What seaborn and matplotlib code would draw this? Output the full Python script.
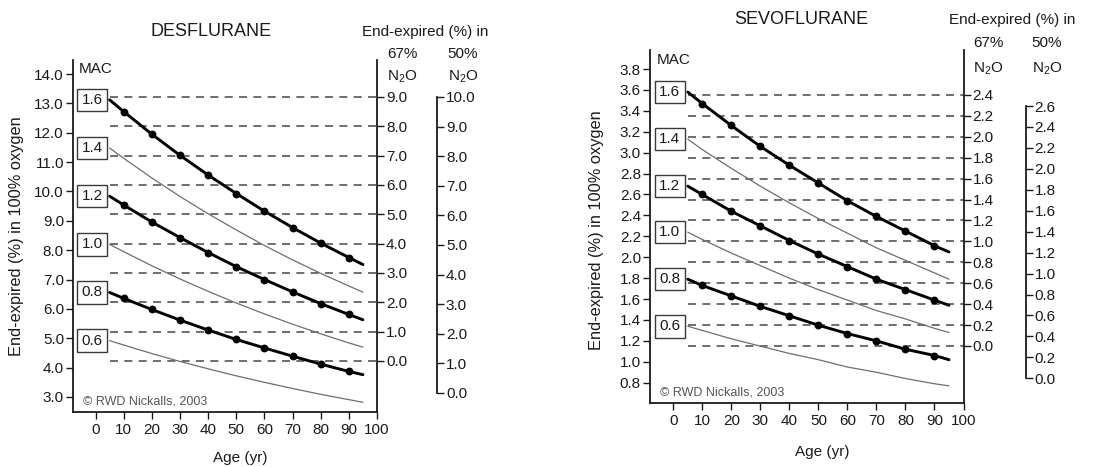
import numpy as np
import pandas as pd
import matplotlib
matplotlib.use("Agg")
import matplotlib.pyplot as plt
from matplotlib.ticker import FormatStrFormatter
import seaborn as sns

# ---------------- data ----------------
ages = [5, 10, 20, 30, 40, 50, 60, 70, 80, 90, 95]
mac_levels = ["1.6", "1.4", "1.2", "1.0", "0.8", "0.6"]
thick_levels = ["1.6", "1.2", "0.8"]

des_16 = [13.12, 12.72, 11.95, 11.23, 10.56, 9.93, 9.33, 8.77, 8.24, 7.75, 7.51]
des_14 = [11.48, 11.13, 10.46, 9.83, 9.24, 8.69, 8.16, 7.67, 7.21, 6.78, 6.57]
des_12 = [9.84, 9.54, 8.96, 8.43, 7.92, 7.44, 7.00, 6.58, 6.18, 5.81, 5.63]
des_10 = [8.20, 7.95, 7.47, 7.02, 6.60, 6.20, 5.83, 5.48, 5.15, 4.84, 4.70]
des_08 = [6.56, 6.36, 5.98, 5.62, 5.28, 4.96, 4.67, 4.39, 4.12, 3.87, 3.76]
des_06 = [4.92, 4.77, 4.48, 4.21, 3.96, 3.72, 3.50, 3.29, 3.09, 2.91, 2.82]

sevo_16 = [3.58, 3.47, 3.26, 3.06, 2.88, 2.71, 2.54, 2.39, 2.25, 2.11, 2.05]
sevo_14 = [3.13, 3.03, 2.85, 2.68, 2.52, 2.37, 2.23, 2.09, 1.97, 1.85, 1.79]
sevo_12 = [2.68, 2.60, 2.44, 2.30, 2.16, 2.03, 1.91, 1.79, 1.69, 1.59, 1.54]
sevo_10 = [2.24, 2.17, 2.04, 1.92, 1.80, 1.69, 1.59, 1.49, 1.41, 1.32, 1.28]
sevo_08 = [1.79, 1.73, 1.63, 1.53, 1.44, 1.35, 1.27, 1.20, 1.12, 1.06, 1.02]
sevo_06 = [1.34, 1.30, 1.22, 1.15, 1.08, 1.02, 0.95, 0.90, 0.84, 0.79, 0.77]

x_ticks = [0, 10, 20, 30, 40, 50, 60, 70, 80, 90, 100]
des_yticks = [3.0, 4.0, 5.0, 6.0, 7.0, 8.0, 9.0, 10.0, 11.0, 12.0, 13.0, 14.0]
des_n67_ticks = [0.0, 1.0, 2.0, 3.0, 4.0, 5.0, 6.0, 7.0, 8.0, 9.0]
des_n50_ticks = [0.0, 1.0, 2.0, 3.0, 4.0, 5.0, 6.0, 7.0, 8.0, 9.0, 10.0]
sevo_yticks = [0.8, 1.0, 1.2, 1.4, 1.6, 1.8, 2.0, 2.2, 2.4, 2.6, 2.8, 3.0, 3.2, 3.4, 3.6, 3.8]
sevo_n67_ticks = [0.0, 0.2, 0.4, 0.6, 0.8, 1.0, 1.2, 1.4, 1.6, 1.8, 2.0, 2.2, 2.4]
sevo_n50_ticks = [0.0, 0.2, 0.4, 0.6, 0.8, 1.0, 1.2, 1.4, 1.6, 1.8, 2.0, 2.2, 2.4, 2.6]

# ---------------- style ----------------
sns.set_theme(style="ticks")
plt.rcParams["font.family"] = ["Liberation Sans", "DejaVu Sans"]
plt.rcParams["mathtext.fontset"] = "custom"
plt.rcParams["mathtext.rm"] = "Liberation Sans"
plt.rcParams["mathtext.it"] = "Liberation Sans:italic"
plt.rcParams["mathtext.default"] = "rm"

TXT = "#1a1a1a"
FS = 11

fig = plt.figure(figsize=(10.95, 4.67), dpi=100)
W, H = 1095.0, 467.0


def panel(rect, curves, ylim, yticks, n67_ticks, n67_lim, n50_ticks, n50_lim, n50_pos):
    ax = fig.add_axes(rect)
    ax67 = ax.twinx()
    ax50 = ax.twinx()
    ax.set_zorder(3)
    ax.patch.set_visible(False)

    frames = []
    for lvl, vals in zip(mac_levels, curves):
        frames.append(pd.DataFrame({"age": ages, "value": vals, "mac": lvl}))
    df = pd.concat(frames, ignore_index=True)
    for lvl in mac_levels:
        sub = df[df["mac"] == lvl]
        thick = lvl in thick_levels
        sns.lineplot(data=sub, x="age", y="value", ax=ax, color="black" if thick else "#6e6e6e",
                     lw=2.1 if thick else 0.9, legend=False, zorder=4)
        if thick:
            dots = sub[(sub["age"] >= 10) & (sub["age"] <= 90)]
            sns.scatterplot(data=dots, x="age", y="value", ax=ax, color="black", s=32,
                            edgecolor="black", linewidth=0, legend=False, zorder=5)
        ax.text(-1.2, sub["value"].iloc[0], lvl, ha="center", va="center", fontsize=FS, color=TXT,
                bbox=dict(boxstyle="square,pad=0.28", fc="white", ec="#3a3a3a", lw=1.0), zorder=6)

    ax.set_xlim(-8, 100)
    ax.set_ylim(*ylim)
    ax.set_xticks(x_ticks)
    ax.set_yticks(yticks)
    ax.yaxis.set_major_formatter(FormatStrFormatter("%.1f"))
    ax.set_xlabel("")
    ax.set_ylabel("")
    for s in ["top", "right"]:
        ax.spines[s].set_visible(False)
    for s in ["left", "bottom"]:
        ax.spines[s].set_linewidth(1.3)
        ax.spines[s].set_color("#1a1a1a")
    ax.tick_params(axis="y", direction="out", length=5, width=1.0, labelsize=FS,
                   colors="#1a1a1a", labelcolor=TXT, pad=1.5)
    ax.tick_params(axis="x", direction="out", length=5, width=1.0, labelsize=FS,
                   colors="#1a1a1a", labelcolor=TXT, pad=3)

    ax67.set_ylim(*n67_lim)
    ax67.set_yticks(n67_ticks)
    ax67.yaxis.set_major_formatter(FormatStrFormatter("%.1f"))
    for s in ["top", "left", "bottom"]:
        ax67.spines[s].set_visible(False)
    ax67.spines["right"].set_linewidth(1.3)
    ax67.spines["right"].set_color("#1a1a1a")
    ax67.tick_params(axis="y", direction="out", length=5, width=1.0, labelsize=FS,
                     colors="#1a1a1a", labelcolor=TXT, pad=1.5)
    ax67.hlines(n67_ticks, 5, 100, colors="#555555", lw=1.2, linestyles=(0, (4.8, 3.8)))

    ax50.set_ylim(*n50_lim)
    ax50.set_yticks(n50_ticks)
    ax50.yaxis.set_major_formatter(FormatStrFormatter("%.1f"))
    for s in ["top", "left", "bottom"]:
        ax50.spines[s].set_visible(False)
    ax50.spines["right"].set_position(("axes", n50_pos))
    ax50.spines["right"].set_bounds(n50_ticks[0], n50_ticks[-1])
    ax50.spines["right"].set_linewidth(1.3)
    ax50.spines["right"].set_color("#1a1a1a")
    ax50.tick_params(axis="y", direction="out", length=5, width=1.0, labelsize=FS,
                     colors="#1a1a1a", labelcolor=TXT, pad=1.5)
    return ax


axL = panel([73 / W, 55 / H, 304 / W, 352 / H],
            [des_16, des_14, des_12, des_10, des_08, des_06],
            (2.489, 14.477), des_yticks, des_n67_ticks, (-1.739, 10.26),
            des_n50_ticks, (-0.642, 11.25), 1.197)
axR = panel([650 / W, 63.7 / H, 313.5 / W, 353.3 / H],
            [sevo_16, sevo_14, sevo_12, sevo_10, sevo_08, sevo_06],
            (0.603, 3.982), sevo_yticks, sevo_n67_ticks, (-0.548, 2.830),
            sevo_n50_ticks, (-0.239, 3.135), 1.198)

for ax in (axL, axR):
    ax.text(0.033, 0.031, "© RWD Nickalls, 2003", transform=ax.transAxes, fontsize=9,
            color="#555555", ha="left", va="center")


def ftext(px, py, s, **kw):
    kw.setdefault("fontsize", FS)
    kw.setdefault("color", TXT)
    kw.setdefault("ha", "center")
    kw.setdefault("va", "center")
    fig.text(px / W, 1 - py / H, s, **kw)


ftext(211, 32, "DESFLURANE", fontsize=13)
ftext(425, 32, "End-expired (%) in")
ftext(402, 54, "67%")
ftext(463, 54, "50%")
ftext(402, 77, "N$_2$O")
ftext(463, 77, "N$_2$O")
ftext(79, 69, "MAC", ha="left")
ftext(17, 236, "End-expired (%) in 100% oxygen", rotation=90, fontsize=11.8)
ftext(240, 458, "Age (yr)")

ftext(801, 20, "SEVOFLURANE", fontsize=13)
ftext(1012, 20, "End-expired (%) in")
ftext(988, 43, "67%")
ftext(1047, 43, "50%")
ftext(988, 69, "N$_2$O")
ftext(1047, 69, "N$_2$O")
ftext(657, 60, "MAC", ha="left")
ftext(597, 230, "End-expired (%) in 100% oxygen", rotation=90, fontsize=11.8)
ftext(822, 452, "Age (yr)")

fig.savefig("out.png", dpi=100)
